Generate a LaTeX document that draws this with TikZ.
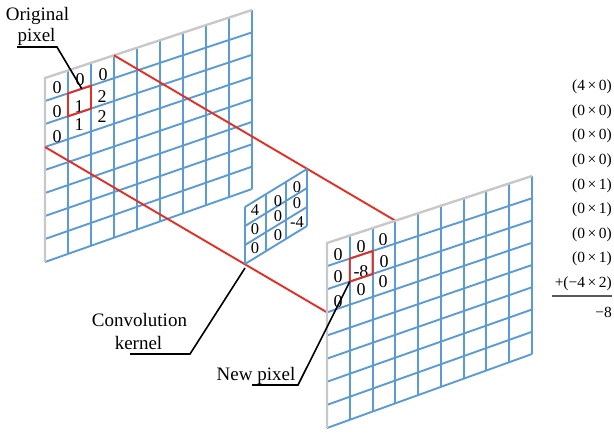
\documentclass[tikz,border=0pt]{standalone}
\usepackage{fontspec}
\setmainfont{Liberation Serif}
\usetikzlibrary{calc}
\definecolor{gblue}{RGB}{91,155,213}
\definecolor{gred}{RGB}{228,46,36}
\definecolor{ggray}{RGB}{200,200,200}
\newcommand\tms{\hspace{2.5pt}×\hspace{2.5pt}}
\begin{document}
\begin{tikzpicture}[x=1pt,y=-1pt,
  gridline/.style={gblue,line width=1.9pt},
  edgeline/.style={ggray,line width=2.4pt},
  redline/.style={gred,line width=1.9pt},
  leader/.style={black,line width=1.6pt},
  num/.style={inner sep=0pt,font=\fontsize{18}{18}\selectfont},
  knum/.style={inner sep=0pt,font=\fontsize{16.5}{17}\selectfont},
  lbl/.style={inner sep=0pt,anchor=base,font=\fontsize{19}{21}\selectfont},
  eq/.style={inner sep=0pt,anchor=base east,font=\fontsize{15.5}{16}\selectfont}]
\useasboundingbox (0,0) rectangle (614,432);
% grid corners
\coordinate (LTL) at (45,78);  \coordinate (LTR) at (252,10);
\coordinate (LBL) at (45,262); \coordinate (LBR) at (252,189);
\coordinate (RTL) at (327,243); \coordinate (RTR) at (532,176);
\coordinate (RBL) at (327,428); \coordinate (RBR) at (532,354);
\coordinate (KTL) at (245,207); \coordinate (KTR) at (307,169);
\coordinate (KBL) at (245,264); \coordinate (KBR) at (307,226);
% left grid
\foreach \i in {1,...,9}
  \draw[gridline] ($(LTL)!\i/9!(LTR)$) -- ($(LBL)!\i/9!(LBR)$);
\foreach \j in {1,...,8}
  \draw[gridline] ($(LTL)!\j/8!(LBL)$) -- ($(LTR)!\j/8!(LBR)$);
\draw[edgeline] (LBL) -- (LTL) -- (LTR);
% red projection lines
\coordinate (LA) at ($(LTL)!3/9!(LTR)$);
\coordinate (LB) at ($(LTL)!3/8!(LBL)$);
\coordinate (RA) at ($(RTL)!3/9!(RTR)$);
\coordinate (RB) at ($(RTL)!3/8!(RBL)$);
\draw[redline] (LA) -- (RA);
\draw[redline] (LB) -- (RB);
% kernel
\foreach \i in {0,...,3}
  \draw[gridline] ($(KTL)!\i/3!(KTR)$) -- ($(KBL)!\i/3!(KBR)$);
\foreach \j in {0,...,3}
  \draw[gridline] ($(KTL)!\j/3!(KBL)$) -- ($(KTR)!\j/3!(KBR)$);
% right grid
\foreach \i in {1,...,9}
  \draw[gridline] ($(RTL)!\i/9!(RTR)$) -- ($(RBL)!\i/9!(RBR)$);
\foreach \j in {1,...,8}
  \draw[gridline] ($(RTL)!\j/8!(RBL)$) -- ($(RTR)!\j/8!(RBR)$);
\draw[edgeline] (RBL) -- (RTL) -- (RTR);
% numbers
\foreach \x/\y/\t [count=\k] in {57/88/0, 80/80/0, 103/75/0, 57/112/0, 79/107/1, 102/97/2, 57/137/0, 79/125/1, 102/117/2}
  \node[num] (ln\k) at (\x,\y) {\t};
\foreach \x/\y/\t [count=\k] in {255/210/4, 278/201/0, 297/187/0, 255/229/0, 278/216/0, 297/203/0, 255/248/0, 278/235/0, 297/222/-4}
  \node[knum] (kn\k) at (\x,\y) {\t};
\foreach \x/\y/\t [count=\k] in {338/255/0, 361/247/0, 383/240/0, 338/277/0, 361/272/-8, 384/262/0, 338/302/0, 361/290/0, 383/282/0}
  \node[num] (rn\k) at (\x,\y) {\t};
% red boxes
\coordinate (L11) at ($($(LTL)!1/9!(LTR)$)!1/8!($(LBL)!1/9!(LBR)$)$);
\coordinate (L21) at ($($(LTL)!2/9!(LTR)$)!1/8!($(LBL)!2/9!(LBR)$)$);
\coordinate (L22) at ($($(LTL)!2/9!(LTR)$)!2/8!($(LBL)!2/9!(LBR)$)$);
\coordinate (L12) at ($($(LTL)!1/9!(LTR)$)!2/8!($(LBL)!1/9!(LBR)$)$);
\draw[redline] (L11) -- (L21) -- (L22) -- (L12) -- cycle;
\coordinate (R11) at ($($(RTL)!1/9!(RTR)$)!1/8!($(RBL)!1/9!(RBR)$)$);
\coordinate (R21) at ($($(RTL)!2/9!(RTR)$)!1/8!($(RBL)!2/9!(RBR)$)$);
\coordinate (R22) at ($($(RTL)!2/9!(RTR)$)!2/8!($(RBL)!2/9!(RBR)$)$);
\coordinate (R12) at ($($(RTL)!1/9!(RTR)$)!2/8!($(RBL)!1/9!(RBR)$)$);
\draw[redline] (R11) -- (R21) -- (R22) -- (R12) -- cycle;
% labels
\node[lbl] (orig) at (37.5,20) {Original};
\node[lbl] (origb) at (36.5,41.5) {pixel};
\node[lbl] (conv) at (139.5,326) {Convolution};
\node[lbl] (kern) at (138.5,349) {kernel};
\node[lbl] (newp) at (256,380) {New pixel};
% leaders
\coordinate (u1a) at (17,47); \coordinate (u1b) at (57,47);
\coordinate (p1) at ($(L11)!0.6!(L21)$);
\draw[leader] (u1a) -- (u1b) -- (p1);
\coordinate (u2a) at (130,354); \coordinate (u2b) at (190,354);
\coordinate (p2) at (245,268);
\draw[leader] (u2a) -- (u2b) -- (p2);
\coordinate (u3a) at (252,385); \coordinate (u3b) at (298,385);
\draw[leader] (u3a) -- (u3b) -- (R12);
% equation
\node[eq] (e1) at (612,90.6) {(4\tms 0)};
\node[eq] (e2) at (612,115.2) {(0\tms 0)};
\node[eq] (e3) at (612,139.8) {(0\tms 0)};
\node[eq] (e4) at (612,164.4) {(0\tms 0)};
\node[eq] (e5) at (612,189.0) {(0\tms 1)};
\node[eq] (e6) at (612,213.6) {(0\tms 1)};
\node[eq] (e7) at (612,238.2) {(0\tms 0)};
\node[eq] (e8) at (612,262.8) {(0\tms 1)};
\node[eq] (e9) at (612,287.4) {+(−4\tms 2)};
\coordinate (sa) at (552,296); \coordinate (sb) at (612,296);
\draw[black!65,line width=1.3pt] (sa) -- (sb);
\node[eq] (e10) at (612,317.3) {−8};
\end{tikzpicture}
\end{document}
